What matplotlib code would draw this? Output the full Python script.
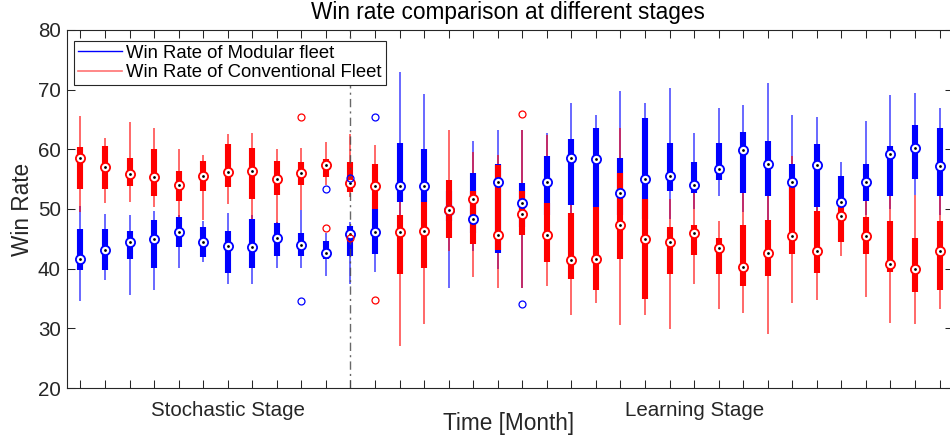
import matplotlib
matplotlib.use("Agg")
import matplotlib.pyplot as plt
from matplotlib.lines import Line2D
from matplotlib.transforms import blended_transform_factory
import numpy as np

plt.rcParams['font.family'] = ['Liberation Sans', 'DejaVu Sans']

# ---------------- data ----------------
positions = list(range(1, 37))
stage_labels = ["Stochastic Stage", "Learning Stage"]
stage_label_pos = [7, 26]
stage_boundary = 12

# Modular fleet (blue): lower whisker, q1, median, q3, upper whisker
mod_lo  = [34.5, 38.1, 35.6, 36.5, 40.1, 41.1, 37.5, 37.4, 40.1, 40.1, 38.8, 37.5,
           39.5, 48.0, 48.0, 36.8, 43.0, 40.0, 36.8, 45.0, 48.0, 48.0, 46.0, 45.0,
           48.3, 50.0, 52.1, 49.5, 48.0, 48.0, 47.0, 49.5, 49.0, 50.0, 52.3, 49.0]
mod_q1  = [39.7, 39.7, 41.6, 40.1, 43.7, 42.0, 39.2, 40.1, 42.1, 42.2, 41.7, 42.2,
           42.4, 51.1, 51.1, 48.0, 46.0, 42.7, 47.0, 49.0, 50.7, 50.3, 49.0, 48.3,
           53.1, 52.7, 54.9, 52.7, 52.1, 51.5, 50.4, 50.4, 51.3, 52.1, 55.0, 52.1]
mod_med = [41.6, 43.1, 44.4, 44.9, 46.1, 44.5, 43.8, 43.7, 45.1, 44.0, 42.7, 45.8,
           46.1, 53.9, 53.8, 49.9, 48.3, 54.5, 51.0, 54.5, 58.6, 58.4, 52.7, 55.1,
           55.6, 54.1, 56.7, 59.9, 57.5, 54.6, 57.3, 51.2, 54.6, 59.3, 60.2, 57.2]
mod_q3  = [46.7, 46.7, 46.3, 48.1, 48.7, 47.0, 46.3, 48.3, 47.6, 46.0, 44.7, 47.1,
           50.0, 61.0, 60.0, 53.0, 56.0, 57.6, 54.3, 58.9, 61.7, 63.6, 58.5, 65.3,
           61.1, 57.8, 61.1, 62.9, 61.4, 57.5, 60.9, 55.6, 57.6, 60.6, 64.0, 63.5]
mod_hi  = [50.5, 49.1, 49.0, 49.7, 49.0, 48.0, 49.4, 49.0, 47.9, 49.8, 45.9, 47.8,
           51.0, 73.0, 69.3, 54.0, 61.4, 63.3, 63.3, 62.8, 67.8, 65.8, 69.7, 67.8,
           70.2, 62.7, 66.9, 67.5, 71.2, 65.8, 65.4, 57.8, 64.7, 69.1, 69.4, 66.9]

# Conventional fleet (red)
con_lo  = [49.5, 51.0, 51.1, 50.4, 48.7, 48.2, 50.8, 40.1, 47.7, 49.8, 54.0, 52.0,
           42.5, 27.1, 30.7, 43.0, 38.6, 36.8, 36.8, 37.1, 32.2, 34.3, 30.6, 32.3,
           29.9, 37.4, 33.2, 32.6, 29.0, 34.3, 34.7, 42.2, 35.3, 30.9, 30.7, 33.2]
con_q1  = [53.3, 53.4, 53.8, 52.1, 51.4, 53.0, 53.7, 51.7, 52.4, 54.1, 55.4, 52.9,
           50.0, 39.1, 40.1, 45.1, 44.1, 43.1, 45.7, 41.2, 38.3, 36.5, 41.6, 34.9,
           39.1, 42.3, 39.1, 37.1, 38.7, 42.5, 39.2, 44.5, 42.5, 39.5, 36.1, 36.5]
con_med = [58.5, 57.0, 55.8, 55.3, 54.0, 55.6, 56.2, 56.4, 55.0, 56.1, 57.4, 54.4,
           53.9, 46.1, 46.3, 49.9, 51.7, 45.6, 49.1, 45.6, 41.5, 41.7, 47.4, 45.0,
           44.5, 46.0, 43.4, 40.2, 42.7, 45.5, 42.9, 48.9, 45.5, 40.8, 39.9, 42.9]
con_q3  = [60.4, 60.6, 58.5, 60.0, 56.4, 58.0, 60.9, 60.2, 58.0, 57.8, 58.3, 57.9,
           57.6, 49.0, 51.1, 54.8, 53.0, 57.4, 53.0, 51.0, 49.4, 50.3, 56.0, 51.7,
           47.0, 47.4, 45.1, 47.4, 48.1, 54.6, 49.7, 50.4, 48.7, 48.0, 45.1, 48.0]
con_hi  = [65.6, 61.9, 64.5, 63.5, 60.1, 59.0, 62.6, 62.7, 60.0, 60.2, 61.2, 62.5,
           60.7, 55.1, 55.5, 63.2, 59.6, 59.0, 63.3, 62.4, 55.7, 54.6, 63.5, 58.0,
           51.7, 54.0, 48.0, 53.3, 53.1, 58.8, 56.5, 51.2, 56.1, 53.6, 52.3, 55.6]

# outliers
mod_out_pos = [10, 11, 12, 13, 19]
mod_out_val = [34.6, 53.3, 55.2, 65.4, 34.1]
con_out_pos = [10, 11, 12, 13, 19]
con_out_val = [65.5, 46.8, 45.1, 34.7, 66.0]

# ---------------- figure ----------------
W, H = 950, 441
fig = plt.figure(figsize=(W / 100, H / 100), dpi=100)
ax_left, ax_bottom, ax_w, ax_h = 67, 53, 886, 358
ax = fig.add_axes([ax_left / W, ax_bottom / H, ax_w / W, ax_h / H])
ax.set_xlim(0.45, 36.55)
ax.set_ylim(20, 80)

BLUE = (0, 0, 1)
RED = (1, 0, 0)
GREY = (0.15, 0.15, 0.15)

series = [
    (mod_lo, mod_q1, mod_med, mod_q3, mod_hi, BLUE, 0.0),
    (con_lo, con_q1, con_med, con_q3, con_hi, RED, 0.1),
]
for lo, q1, med, q3, hi, col, dz in series:
    ax.vlines(positions, lo, hi, colors=[col], linewidth=1.1, alpha=0.75, zorder=2 + dz)
    ax.vlines(positions, q1, q3, colors=[col], linewidth=4.4, zorder=2.5 + dz,
              capstyle='butt')

ax.axvline(stage_boundary, color=(0.3, 0.3, 0.3), lw=1.0, ls=(0, (6, 3, 1.5, 3)),
           alpha=0.85, zorder=3)

for lo, q1, med, q3, hi, col, dz in series:
    ax.plot(positions, med, ls='none', marker='o', ms=6.6, mfc='white', mec=col,
            mew=1.3, zorder=4 + dz)
    ax.plot(positions, med, ls='none', marker='o', ms=2.0, mfc='black', mec='black',
            mew=0, zorder=4.05 + dz)

ax.plot(mod_out_pos, mod_out_val, ls='none', marker='o', ms=5, mfc='none', mec=BLUE,
        mew=0.9, zorder=4.5)
ax.plot(con_out_pos, con_out_val, ls='none', marker='o', ms=5, mfc='none', mec=RED,
        mew=0.9, zorder=4.5)

# axes styling
ax.set_xticks(positions)
ax.set_xticklabels([''] * len(positions))
ax.set_yticks(np.arange(20, 81, 10))
ax.tick_params(axis='both', direction='in', length=5.8, width=0.75, colors=GREY,
               top=True, right=True, labelsize=14.8)
ax.tick_params(axis='y', pad=4.5)
for sp in ax.spines.values():
    sp.set_color(GREY)
    sp.set_linewidth(0.8)

trans = blended_transform_factory(ax.transData, ax.transAxes)
for lab, p in zip(stage_labels, stage_label_pos):
    ax.text(p, -28 / ax_h, lab, transform=trans, ha='center', va='baseline',
            fontsize=14.8, color=GREY)

fig.text(509 / W, 1 - 430 / H, "Time [Month]", ha='center', va='baseline',
         fontsize=16.3, color=GREY)
fig.text(508 / W, 1 - 18.5 / H, "Win rate comparison at different stages",
         ha='center', va='baseline', fontsize=16.3, color='black')
ax.set_ylabel("Win Rate", fontsize=16.3, color=GREY)
ax.yaxis.set_label_coords((34 - ax_left) / ax_w, 0.5)

handles = [Line2D([], [], color=BLUE, lw=1.0),
           Line2D([], [], color=RED, lw=1.2, alpha=0.55)]
leg = ax.legend(handles, ["Win Rate of Modular fleet", "Win Rate of Conventional Fleet"],
                loc='upper left', bbox_to_anchor=((74.3 - ax_left) / ax_w, 1 - (40.7 - 30) / ax_h),
                borderaxespad=0, fontsize=13.3, handlelength=2.38, handletextpad=0.2,
                borderpad=0.22, labelspacing=0.12, fancybox=False, framealpha=1,
                edgecolor=GREY)
leg.get_frame().set_linewidth(0.8)
leg.set_zorder(10)

fig.savefig("out.png", dpi=100)
